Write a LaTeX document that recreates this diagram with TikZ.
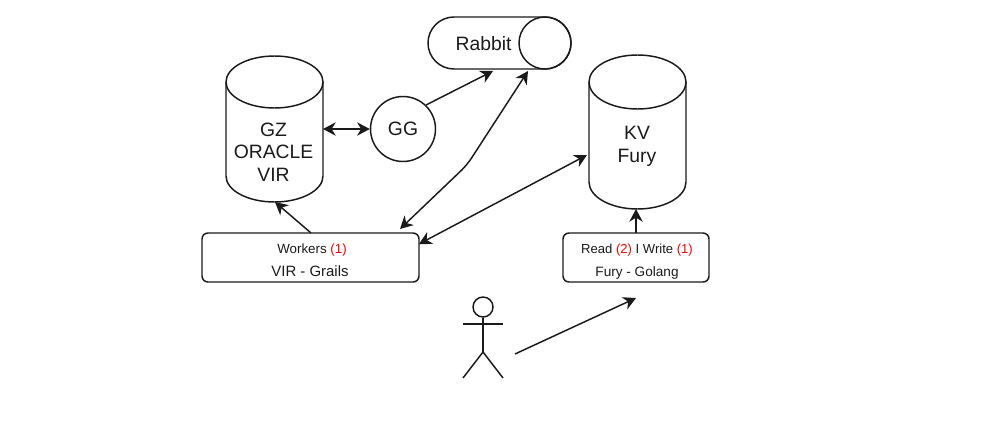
\documentclass[tikz,border=0pt]{standalone}
\usepackage{fontspec}
\setmainfont{Liberation Sans}
\usetikzlibrary{arrows.meta}
\definecolor{inkc}{HTML}{1A1A1A}
\tikzset{
  outline/.style={draw=inkc,line width=1.1pt},
  link/.style={draw=inkc,line width=1.1pt,-{Stealth[length=9.5pt,width=10pt,inset=3pt]}},
  twolink/.style={draw=inkc,line width=1.1pt,{Stealth[length=9.5pt,width=10pt,inset=3pt]}-{Stealth[length=9.5pt,width=10pt,inset=3pt]}},
  bigtext/.style={font=\fontsize{14.5}{17}\selectfont,align=center,text=inkc,inner sep=0pt},
  smalltext/.style={font=\fontsize{10}{12}\selectfont,text=inkc,inner sep=0pt,anchor=base},
  boxnode/.style={outline,rounded corners=4.5pt,minimum height=36.75pt,inner sep=0pt},
  hole/.style={inner sep=0pt,minimum size=0pt}
}
\newcommand{\redtxt}[1]{\textcolor{red}{#1}}
\begin{document}
\begin{tikzpicture}[x=0.75pt,y=-0.75pt]
\useasboundingbox (0,0) rectangle (1005,421);
% left cylinder
\draw[outline] (226,82) arc[start angle=180,end angle=540,x radius=48.5,y radius=26];
\draw[outline] (226,82) -- (226,176) arc[start angle=180,end angle=360,x radius=48.5,y radius=-26] -- (323,82);
\node[hole,minimum width=72.75pt,minimum height=109.5pt] (gz) at (274.5,129) {};
\node[bigtext] (gzt) at (273.5,152) {GZ\\ORACLE\\VIR};
% GG
\node[outline,circle,minimum size=48.75pt,inner sep=0pt,bigtext] (gg) at (403,129) {GG};
% Rabbit
\draw[outline] (454,17) -- (545,17) arc[start angle=-90,end angle=90,radius=26] -- (454,69) arc[start angle=90,end angle=270,radius=26] -- cycle;
\draw[outline] (545,17) arc[start angle=-90,end angle=270,radius=26];
\node[hole,minimum width=108pt,minimum height=39pt] (rabbit) at (499,43) {};
\node[bigtext] (rabbitt) at (483.5,44) {Rabbit};
% KV cylinder
\draw[outline] (589,82) arc[start angle=180,end angle=540,x radius=48.5,y radius=27];
\draw[outline] (589,82) -- (589,182) arc[start angle=180,end angle=360,x radius=48.5,y radius=-27] -- (686,82);
\node[hole,minimum width=72.75pt,minimum height=114.75pt] (kv) at (637.5,132.5) {};
\node[bigtext] (kvt) at (637,146.5) {KV\\Fury};
% boxes
\node[boxnode,minimum width=162.75pt] (vir) at (310.5,257.5) {};
\node[smalltext] (virtop) at (312,253) {Workers \redtxt{(1)}};
\node[smalltext,font=\fontsize{11.2}{12}\selectfont] (virbot) at (310,276) {VIR - Grails};
\node[boxnode,minimum width=109.5pt] (fury) at (636,257.5) {};
\node[smalltext,font=\fontsize{9.8}{12}\selectfont] (furytop) at (637,253) {Read \redtxt{(2)} I Write \redtxt{(1)}};
\node[smalltext,font=\fontsize{10.2}{12}\selectfont] (furybot) at (637,276) {Fury - Golang};
% actor
\node[outline,circle,minimum size=15pt,inner sep=0pt] (head) at (483,307) {};
\coordinate (neck) at (483,352);
\draw[outline] (head.south) -- (neck);
\draw[outline] (463,324) -- (503,324);
\draw[outline] (463,378) -- (neck) -- (503,378);
% connector ends
\coordinate (a1) at (311,233);
\coordinate (a2) at (275,202);
\coordinate (b1) at (426,105);
\coordinate (b2) at (493,71);
\coordinate (c1) at (400,229);
\coordinate (c2) at (467,165);
\coordinate (c3) at (528,71);
\coordinate (d1) at (419,244);
\coordinate (d2) at (587,155);
\coordinate (e1) at (636,233);
\coordinate (e2) at (636,209);
\coordinate (f1) at (515,354);
\coordinate (f2) at (636,298);
\draw[twolink] (323,129) -- (gg.west);
\draw[link] (a1) -- (a2);
\draw[link] (b1) -- (b2);
\draw[twolink,rounded corners=6pt] (c1) -- (c2) -- (c3);
\draw[twolink] (d1) -- (d2);
\draw[link] (e1) -- (e2);
\draw[link] (f1) -- (f2);
\end{tikzpicture}
\end{document}
